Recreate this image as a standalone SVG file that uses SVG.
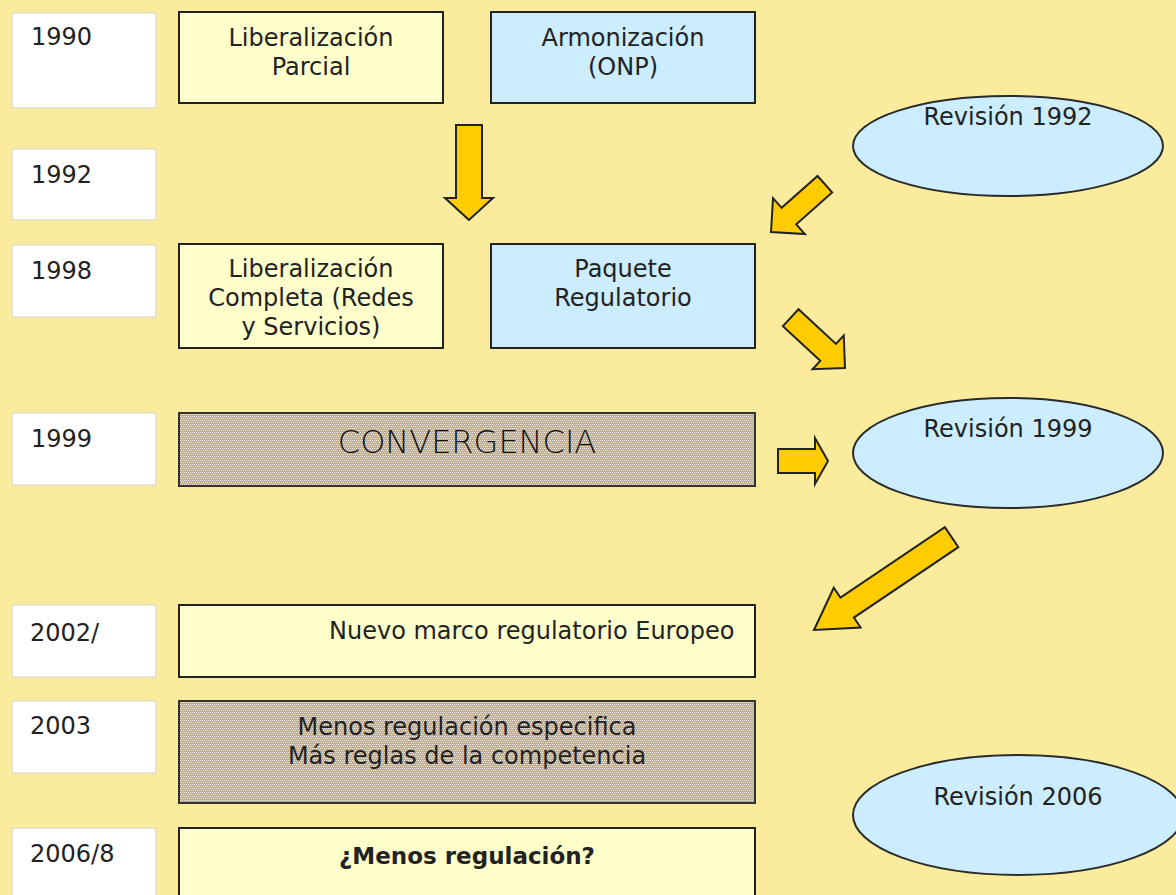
<svg xmlns="http://www.w3.org/2000/svg" width="1176" height="895" viewBox="0 0 1176 895">
<defs>
<pattern id="dots" patternUnits="userSpaceOnUse" x="0" y="0" width="4" height="4">
<rect width="4" height="4" fill="#BBAD8C"/>
<rect x="0" y="0" width="1" height="1" fill="#F4EAF0"/>
<rect x="2" y="0" width="1" height="1" fill="#F4EAF0"/>
<rect x="1" y="2" width="1" height="1" fill="#F4EAF0"/>
<rect x="3" y="2" width="1" height="1" fill="#F4EAF0"/>
</pattern>
</defs>
<style>
text{font-family:"DejaVu Sans","Verdana",sans-serif;font-size:24px;fill:#222}
.yr rect{fill:#fff;stroke:#d2d2c8;stroke-width:1}
.yel{fill:#FFFFCC;stroke:#222;stroke-width:2}
.blu{fill:#CCECFF;stroke:#222;stroke-width:2}
.pat{fill:url(#dots);stroke:#333;stroke-width:2}
.ell{fill:#CCECFF;stroke:#2a2a2a;stroke-width:2}
.c{text-anchor:middle}
.arr{fill:#FFCC00;stroke:#222;stroke-width:2;stroke-linejoin:miter}
</style>
<rect width="1176" height="895" fill="#FBEC9D"/>

<g id="y1990" class="yr"><rect x="12" y="13" width="144" height="95"/><text x="31" y="45">1990</text></g>
<g id="y1992" class="yr"><rect x="12" y="149" width="144" height="71"/><text x="31" y="183">1992</text></g>
<g id="y1998" class="yr"><rect x="12" y="245" width="144" height="72"/><text x="31" y="279">1998</text></g>
<g id="y1999" class="yr"><rect x="12" y="413" width="144" height="72"/><text x="31" y="447">1999</text></g>
<g id="y2002" class="yr"><rect x="12" y="605" width="144" height="72"/><text x="30" y="641">2002/</text></g>
<g id="y2003" class="yr"><rect x="12" y="701" width="144" height="72"/><text x="30" y="734">2003</text></g>
<g id="y2006" class="yr"><rect x="12" y="828" width="144" height="72"/><text x="30" y="862">2006/8</text></g>

<g id="libParcial"><rect class="yel" x="179" y="12" width="264" height="91"/>
<text class="c" x="311" y="46">Liberalización</text><text class="c" x="311" y="75">Parcial</text></g>
<g id="armonizacion"><rect class="blu" x="491" y="12" width="264" height="91"/>
<text class="c" x="623" y="46">Armonización</text><text class="c" x="623" y="75">(ONP)</text></g>
<g id="libCompleta"><rect class="yel" x="179" y="244" width="264" height="104"/>
<text class="c" x="311" y="277">Liberalización</text><text class="c" x="311" y="306">Completa (Redes</text><text class="c" x="311" y="335">y Servicios)</text></g>
<g id="paquete"><rect class="blu" x="491" y="244" width="264" height="104"/>
<text class="c" x="623" y="277">Paquete</text><text class="c" x="623" y="306">Regulatorio</text></g>
<g id="convergencia"><rect class="pat" x="179" y="413" width="576" height="73"/>
<text class="c" x="467" y="453" style="font-size:32px;font-weight:200;fill:#111">CONVERGENCIA</text></g>
<g id="nuevoMarco"><rect class="yel" x="179" y="605" width="576" height="72"/>
<text x="329" y="639">Nuevo marco regulatorio Europeo</text></g>
<g id="menosReg"><rect class="pat" x="179" y="701" width="576" height="102"/>
<text class="c" x="467" y="735">Menos regulación especifica</text><text class="c" x="467" y="764">Más reglas de la competencia</text></g>
<g id="menosRegQ"><rect class="yel" x="179" y="828" width="576" height="80"/>
<text class="c" x="467" y="864" style="font-weight:bold;font-size:23px">¿Menos regulación?</text></g>

<g id="rev1992"><ellipse class="ell" cx="1008" cy="146" rx="155" ry="50"/><text class="c" x="1008" y="125">Revisión 1992</text></g>
<g id="rev1999"><ellipse class="ell" cx="1008" cy="453" rx="155" ry="55"/><text class="c" x="1008" y="437">Revisión 1999</text></g>
<g id="rev2006"><ellipse class="ell" cx="1018" cy="815" rx="165" ry="60"/><text class="c" x="1018" y="805">Revisión 2006</text></g>

<g id="connectors">
<polygon class="arr" transform="translate(469,220) rotate(90)" points="0,0 -22,24 -22,13 -95,13 -95,-13 -22,-13 -22,-24"/>
<polygon class="arr" transform="translate(771,232) rotate(138.4)" points="0,0 -24,24 -24,11 -72,11 -72,-11 -24,-11 -24,-24"/>
<polygon class="arr" transform="translate(845,368) rotate(42.8)" points="0,0 -23,23 -23,11.5 -74,11.5 -74,-11.5 -23,-11.5 -23,-23"/>
<polygon class="arr" transform="translate(828,461)" points="0,0 -13,23 -13,12 -50,12 -50,-12 -13,-12 -13,-23"/>
<polygon class="arr" transform="translate(814,630) rotate(146)" points="0,0 -40,24 -40,12 -166,12 -166,-12 -40,-12 -40,-24"/>
</g>
</svg>
